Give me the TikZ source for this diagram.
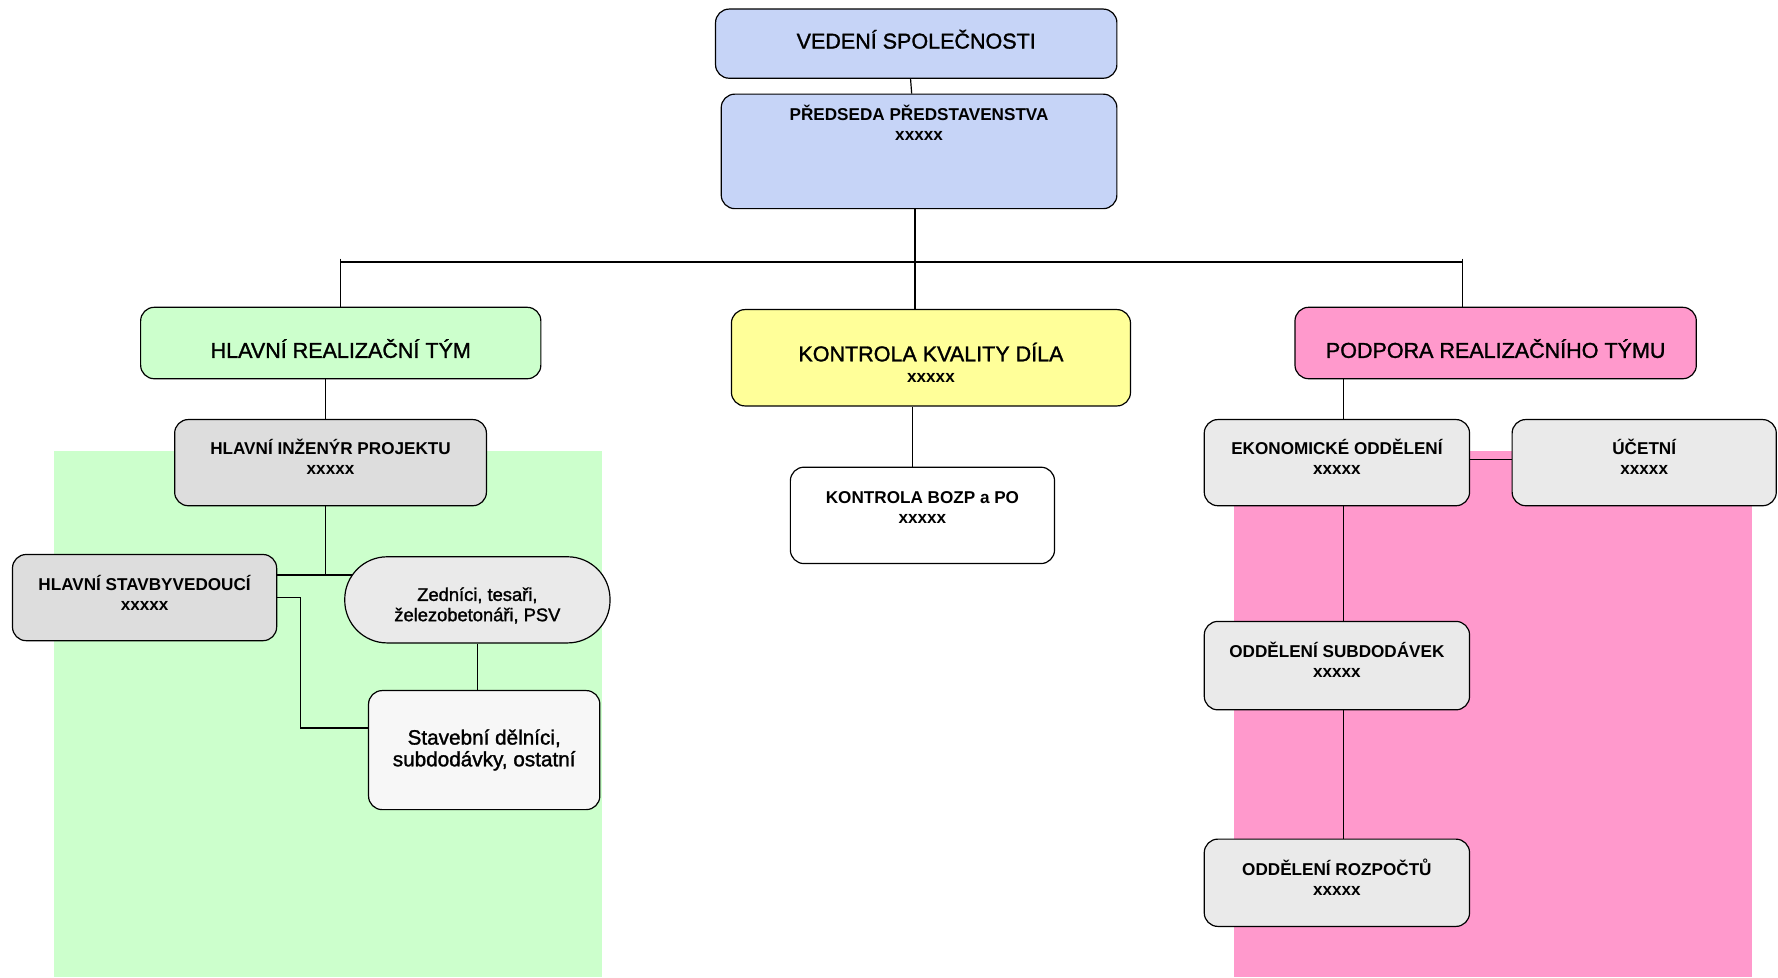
\documentclass[tikz,border=0pt]{standalone}
\usepackage{fontspec}
\setmainfont{Liberation Sans}[UprightFeatures={FakeBold=1.4}]
\usepackage{tikz}
\usetikzlibrary{positioning}

\definecolor{boardblue}{HTML}{C6D4F7}
\definecolor{teamgreen}{HTML}{CCFFCC}
\definecolor{qcyellow}{HTML}{FFFF99}
\definecolor{supportpink}{HTML}{FF99CC}
\definecolor{midgrey}{HTML}{DDDDDD}
\definecolor{lightgrey}{HTML}{EAEAEA}
\definecolor{palegrey}{HTML}{F7F7F7}

\newcommand{\headfont}{\fontsize{10.8}{13}\selectfont}
\newcommand{\smallbold}{\fontsize{8.6}{10}\selectfont\bfseries}
\newcommand{\crewfont}{\fontsize{9.2}{10.2}\selectfont}
\newcommand{\workfont}{\fontsize{10.4}{10.9}\selectfont}
% invisible struts to move text up (extra depth) or down (extra height)
\newcommand{\lift}[1]{\rule[-#1]{0pt}{0pt}}
\newcommand{\sink}[1]{\rule{0pt}{#1}}

\begin{document}
\begin{tikzpicture}[x=0.02cm, y=-0.02cm, line width=0.6pt]
        % Setup the styles for the boxes
        \tikzset{box/.style={draw, rounded corners=0.24cm, align=center, inner sep=0pt},
                 headbox/.style={box, font=\headfont},
                 unitbox/.style={box, font=\smallbold, minimum width=4.68cm, minimum height=1.52cm},
                 crewbox/.style={box, font=\workfont}}

        \useasboundingbox (0,0) rectangle (1568,862);

        % Background areas of the two teams
        \fill[teamgreen] (48,398) rectangle (531,862);
        \fill[supportpink] (1088,398) rectangle (1545,862);

        % Draw the boxes
        \node[headbox, fill=boardblue, minimum width=7.08cm, minimum height=1.22cm] at (808,38.5) (vedeni) {VEDENÍ SPOLEČNOSTI\lift{4.5pt}};
        \node[box, fill=boardblue, minimum width=6.98cm, minimum height=2.02cm,
              label={[anchor=north, yshift=-0.07cm, align=center, font=\smallbold]north:{PŘEDSEDA PŘEDSTAVENSTVA\\xxxxx}}]
              at (810.5,133.5) (predseda) {};
        \node[headbox, fill=teamgreen, minimum width=7.06cm, minimum height=1.26cm] at (300.5,302.5) (hlavni) {\sink{15pt}HLAVNÍ REALIZAČNÍ TÝM};
        \node[headbox, fill=qcyellow, minimum width=7.04cm, minimum height=1.7cm] at (821,315.5) (kontrola) {\sink{14.3pt}KONTROLA KVALITY DÍLA\\[-2.3pt]{\smallbold xxxxx}};
        \node[headbox, fill=supportpink, minimum width=7.08cm, minimum height=1.26cm] at (1319,302.5) (podpora) {\sink{15pt}PODPORA REALIZAČNÍHO TÝMU};

        \node[unitbox, fill=midgrey, minimum width=5.5cm] at (291.5,408) (hip) {HLAVNÍ INŽENÝR PROJEKTU\\xxxxx\lift{5.7pt}};
        \node[unitbox, fill=midgrey, minimum width=4.66cm] at (127.5,527) (hs) {HLAVNÍ STAVBYVEDOUCÍ\\xxxxx\lift{5pt}};
        \node[box, font=\crewfont, fill=lightgrey, rounded corners=0.75cm, minimum width=4.68cm, minimum height=1.52cm] at (421,529) (zednici) {\sink{12.4pt}Zedníci, tesaři,\\železobetonáři, PSV};
        \node[crewbox, fill=palegrey, minimum width=4.08cm, minimum height=2.1cm] at (427,661.5) (stavebni) {Stavební dělníci,\\subdodávky, ostatní\lift{2.3pt}};

        \node[unitbox, fill=white, minimum width=4.66cm, minimum height=1.7cm] at (813.5,454.5) (bozp) {KONTROLA BOZP a PO\\xxxxx\lift{8pt}};

        \node[unitbox, fill=lightgrey] at (1179,408) (eko) {EKONOMICKÉ ODDĚLENÍ\\xxxxx\lift{5.7pt}};
        \node[unitbox, fill=lightgrey, minimum width=4.66cm] at (1450,408) (ucetni) {ÚČETNÍ\\xxxxx\lift{5.7pt}};
        \node[unitbox, fill=lightgrey, minimum height=1.56cm] at (1179,587) (subd) {ODDĚLENÍ SUBDODÁVEK\\xxxxx\lift{5.7pt}};
        \node[unitbox, fill=lightgrey, minimum height=1.54cm] at (1179,778.5) (rozp) {ODDĚLENÍ ROZPOČTŮ\\xxxxx\lift{5.7pt}};

        % Helper points for the connectors
        \coordinate (bus) at (807,231);
        \coordinate (busL) at (300,228);
        \coordinate (busR) at (1290,228);
        \coordinate (hipcol) at (287,507);
        \coordinate (zedin) at (310,507);
        \coordinate (hsturn) at (265,527);
        \coordinate (stavin) at (325,642);
        \coordinate (qccol) at (805,0);
        \coordinate (ecocol) at (1185,0);
        \coordinate (ucrow) at (0,405);

        % Connect the boxes
        \draw ([xshift=-0.1cm]vedeni.south) -- ([xshift=-0.13cm]predseda.north);
        \draw (predseda.south -| bus) -- (bus);
        \draw (busL |- bus) -- (busR |- bus);
        \draw (busL) -- (busL |- hlavni.north);
        \draw (busR) -- (busR |- podpora.north);
        \draw (bus) -- (bus |- kontrola.north);

        \draw (hipcol |- hlavni.south) -- (hipcol |- hip.north);
        \draw (hipcol |- hip.south) -- (hipcol);
        \draw (hs.east |- hipcol) -- (zedin);
        \draw (zednici.south) -- (zednici.south |- stavebni.north);
        \draw (hs.east |- hsturn) -- (hsturn) |- (stavin);

        \draw (qccol |- kontrola.south) -- (qccol |- bozp.north);

        \draw (ecocol |- podpora.south) -- (ecocol |- eko.north);
        \draw (eko.east |- ucrow) -- (ucetni.west |- ucrow);
        \draw (ecocol |- eko.south) -- (ecocol |- subd.north);
        \draw (ecocol |- subd.south) -- (ecocol |- rozp.north);
\end{tikzpicture}
\end{document}
